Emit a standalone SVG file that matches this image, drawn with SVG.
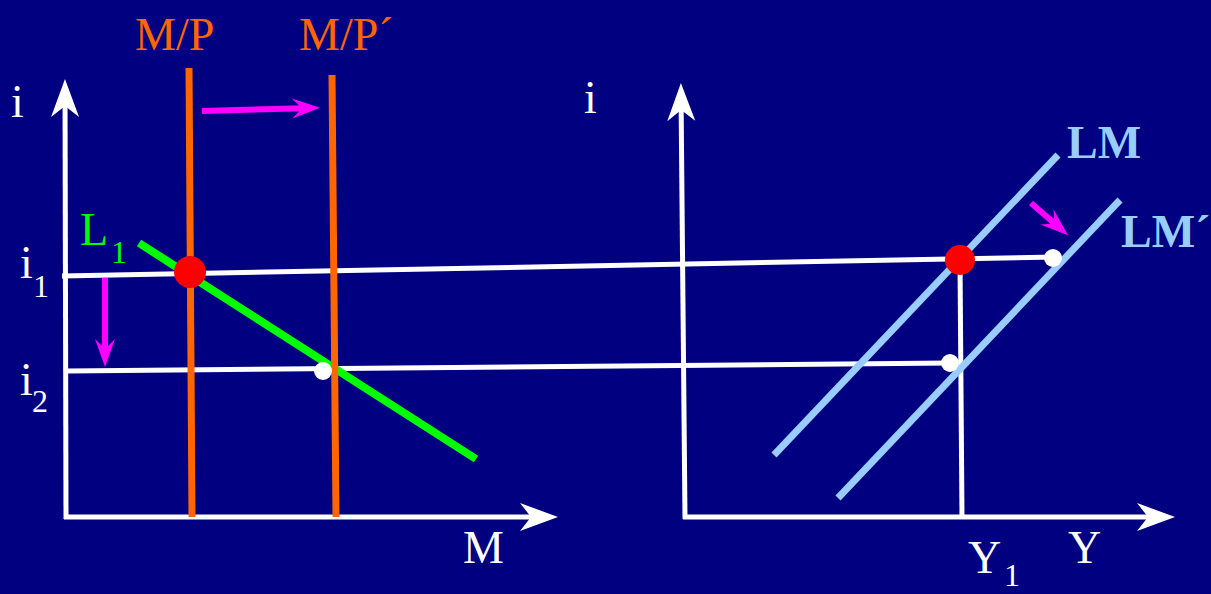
<svg xmlns="http://www.w3.org/2000/svg" width="1211" height="594" viewBox="0 0 1211 594">
<style>
.bg{fill:#000080}
.ax{stroke:#fff;stroke-width:5;fill:none}
.guide{stroke:#fff;stroke-width:5;fill:none}
.mp{stroke:#ff6600;stroke-width:7;fill:none}
.l1{stroke:#00ff00;stroke-width:8;fill:none}
.lm{stroke:#99ccff;stroke-width:7;fill:none}
.mag{stroke:#ff00ff;stroke-width:6;fill:none}
.red{fill:#ff0000}
.wd{fill:#fff}
text{font-family:"Liberation Serif","Times New Roman",serif;font-size:46px}
.t{fill:#fff}
.o{fill:#ff6600}
.g{fill:#00ff00}
.b{fill:#99ccff;font-weight:bold}
.sub{font-size:32px}
</style>
<defs>
<marker id="axh" viewBox="-30 -15 42 30" refX="0" refY="0" markerWidth="42" markerHeight="30" markerUnits="userSpaceOnUse" orient="auto">
<path d="M10,0 L-28,-14 L-17,0 L-28,14 Z" fill="#fff"/>
</marker>
<marker id="mgh" viewBox="-22 -12 32 24" refX="0" refY="0" markerWidth="32" markerHeight="24" markerUnits="userSpaceOnUse" orient="auto">
<path d="M8,0 L-20,-10 L-10,0 L-20,10 Z" fill="#ff00ff"/>
</marker>
</defs>
<rect class="bg" x="0" y="0" width="1211" height="594"/>
<g id="connectors">
<line class="ax" x1="66" y1="519" x2="65" y2="89" marker-end="url(#axh)"/>
<line class="ax" x1="64" y1="517" x2="548" y2="517" marker-end="url(#axh)"/>
<line class="ax" x1="685" y1="519" x2="681" y2="93" marker-end="url(#axh)"/>
<line class="ax" x1="683" y1="517" x2="1165" y2="517" marker-end="url(#axh)"/>
<line class="guide" x1="62" y1="276" x2="1056" y2="257"/>
<line class="guide" x1="68" y1="371" x2="950" y2="363"/>
<line class="guide" x1="960" y1="262" x2="962" y2="517"/>
<line class="l1" x1="139" y1="243" x2="476" y2="459"/>
<line class="mp" x1="189" y1="68" x2="192" y2="517"/>
<line class="mp" x1="332" y1="75" x2="336" y2="517"/>
<line class="lm" x1="774" y1="455" x2="1058" y2="155"/>
<line class="lm" x1="838" y1="498" x2="1120" y2="200"/>
<line class="mag" x1="202" y1="111" x2="312" y2="108" marker-end="url(#mgh)"/>
<line class="mag" x1="105" y1="278" x2="105" y2="359" marker-end="url(#mgh)"/>
<line class="mag" x1="1031" y1="203" x2="1062" y2="230" marker-end="url(#mgh)"/>
</g>
<g id="dots">
<circle class="red" cx="190" cy="272" r="16"/>
<circle class="red" cx="960" cy="260" r="15"/>
<circle class="wd" cx="323" cy="371" r="9"/>
<circle class="wd" cx="950" cy="363" r="9"/>
<circle class="wd" cx="1053" cy="258" r="9"/>
</g>
<g id="labels">
<text class="t" x="11" y="117">i</text>
<text class="t" x="584" y="113">i</text>
<text class="o" x="135" y="50">M/P</text>
<text class="o" x="299" y="50">M/P´</text>
<g id="L1"><text class="g" x="80" y="245">L</text><text class="g sub" x="111" y="263">1</text></g>
<g id="i1"><text class="t" x="20" y="278">i</text><text class="t sub" x="33" y="297">1</text></g>
<g id="i2"><text class="t" x="20" y="395">i</text><text class="t sub" x="32" y="412">2</text></g>
<text class="t" x="463" y="563">M</text>
<g id="Y1"><text class="t" x="968" y="573">Y</text><text class="t sub" x="1004" y="586">1</text></g>
<text class="t" x="1068" y="563">Y</text>
<text class="b" x="1067" y="158">LM</text>
<text class="b" x="1121" y="247">LM´</text>
</g>
</svg>
